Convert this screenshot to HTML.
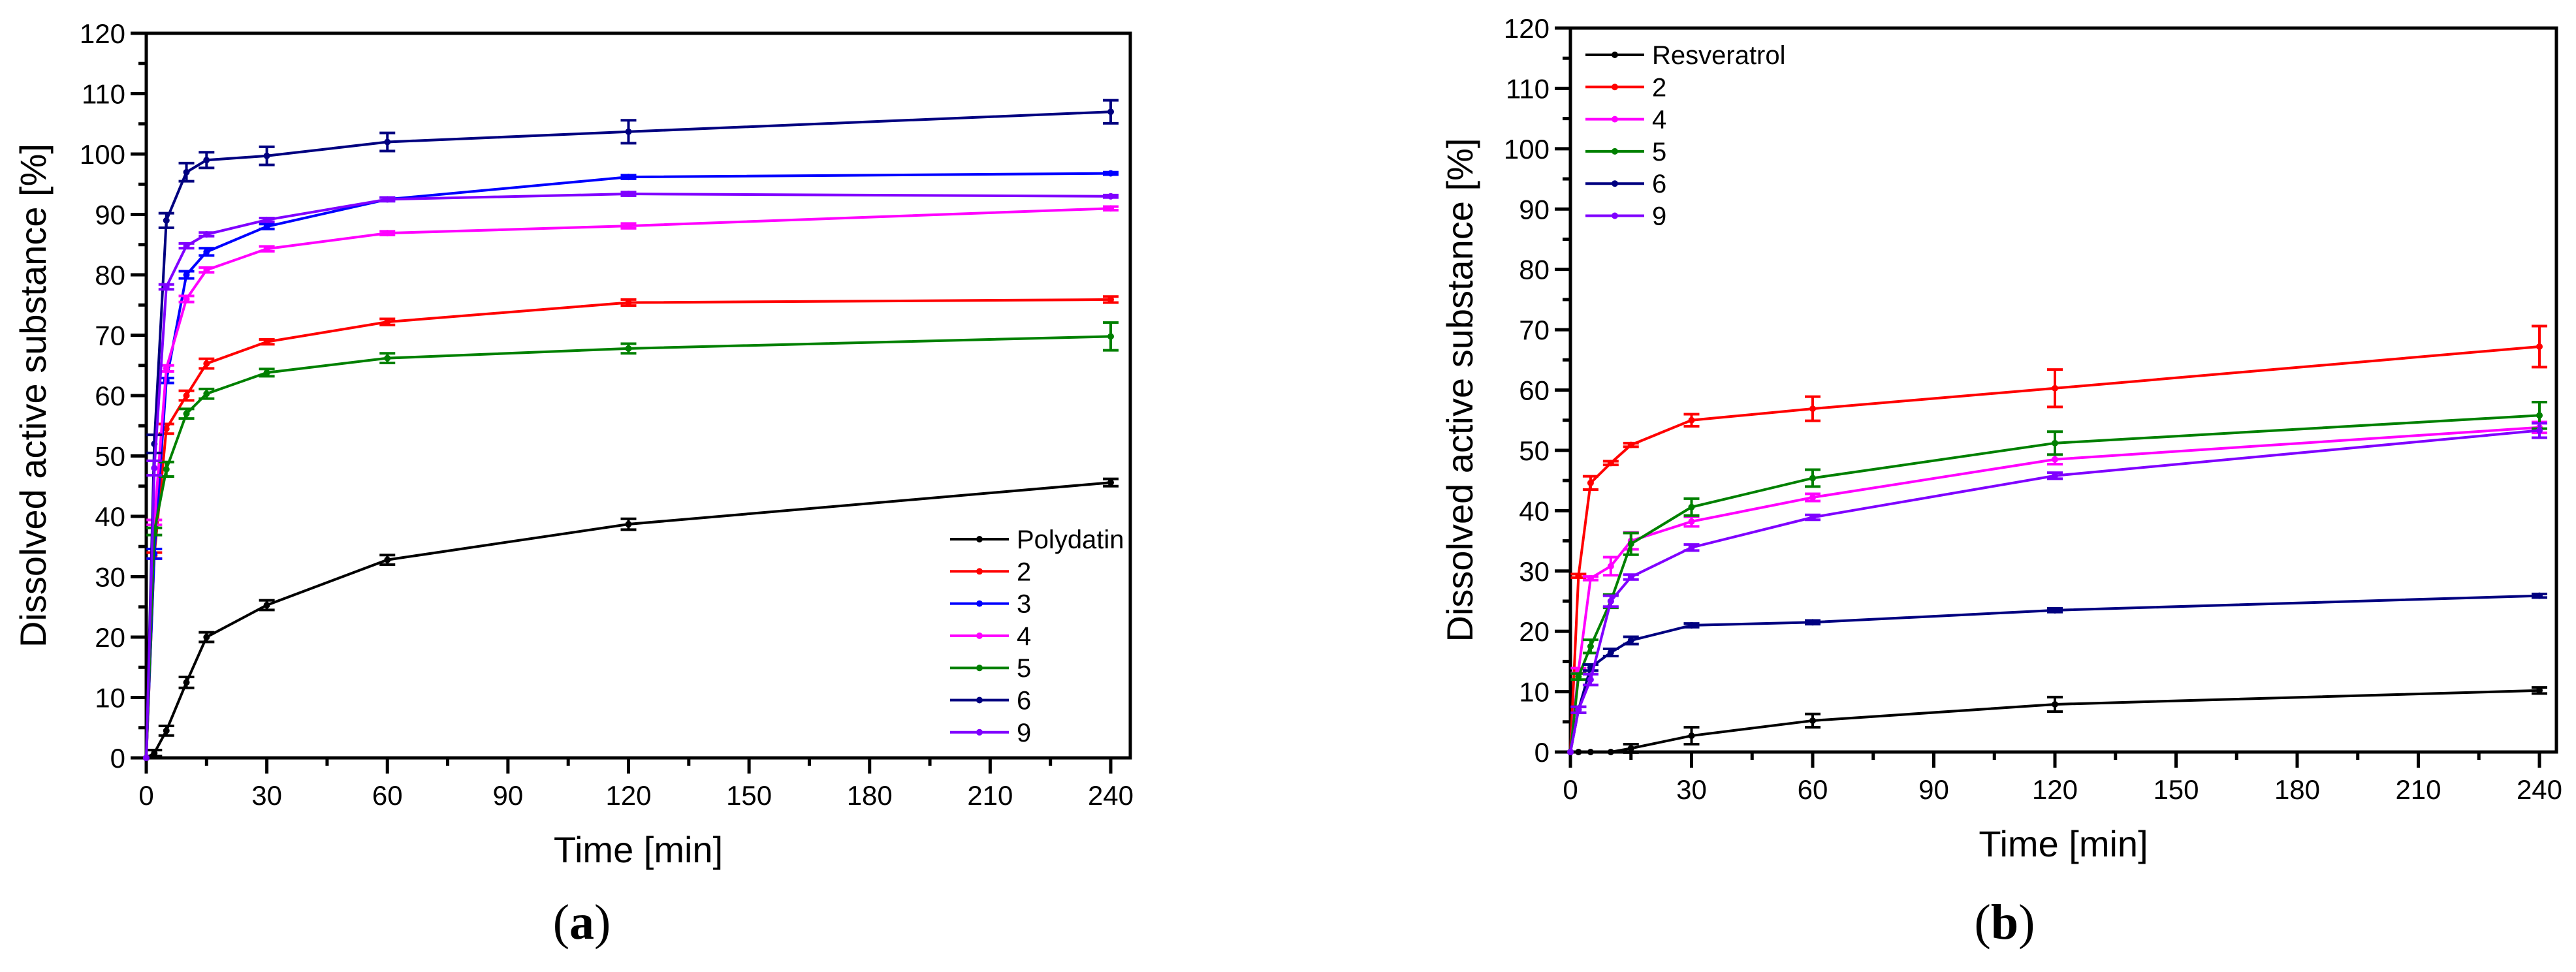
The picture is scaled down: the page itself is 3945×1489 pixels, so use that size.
<!DOCTYPE html>
<html><head><meta charset="utf-8"><style>
html,body{margin:0;padding:0;background:#fff}
svg{display:block}
text{font-family:"Liberation Sans",sans-serif}
</style></head><body>
<svg id="fig" width="3945" height="1489" viewBox="0 0 3945 1489" xmlns="http://www.w3.org/2000/svg"></svg>
<script>
const times = [0, 2, 5, 10, 15, 30, 60, 120, 240];
const xTicks = [0, 30, 60, 90, 120, 150, 180, 210, 240];
const yTicks = [0, 10, 20, 30, 40, 50, 60, 70, 80, 90, 100, 110, 120];
// chart a
const aNames = ["Polydatin", "2", "3", "4", "5", "6", "9"];
const aPoly = [0, 0.8, 4.5, 12.5, 20, 25.3, 32.8, 38.7, 45.6];
const aS2 = [0, 33.5, 54.5, 60, 65.3, 68.9, 72.2, 75.4, 75.9];
const aS3 = [0, 33.8, 62.5, 80, 83.8, 88, 92.5, 96.2, 96.8];
const aS4 = [0, 39, 64.5, 76, 80.8, 84.3, 86.9, 88.1, 91];
const aS5 = [0, 37.5, 47.8, 57, 60.3, 63.8, 66.2, 67.8, 69.8];
const aS6 = [0, 52, 89, 97, 99, 99.7, 102, 103.7, 107];
const aS9 = [0, 48, 78, 84.8, 86.7, 89.1, 92.5, 93.4, 93];
const aErrPoly = [0, 0.5, 0.8, 0.9, 0.8, 0.8, 0.8, 0.9, 0.6];
const aErr2 = [0, 0.5, 0.8, 0.8, 0.8, 0.4, 0.5, 0.5, 0.5];
const aErr3 = [0, 0.8, 0.4, 0.6, 0.6, 0.4, 0.3, 0.3, 0.2];
const aErr4 = [0, 0.4, 0.5, 0.5, 0.4, 0.4, 0.3, 0.4, 0.3];
const aErr5 = [0, 0.6, 1.2, 0.8, 0.8, 0.6, 0.8, 0.8, 2.3];
const aErr6 = [0, 1.5, 1.2, 1.5, 1.3, 1.5, 1.5, 1.9, 1.9];
const aErr9 = [0, 1.2, 0.4, 0.4, 0.3, 0.3, 0.3, 0.3, 0.2];
// chart b
const bNames = ["Resveratrol", "2", "4", "5", "6", "9"];
const bRes = [0, 0, 0, 0, 0.6, 2.7, 5.2, 7.9, 10.2];
const bS2 = [0, 29.2, 44.6, 47.9, 50.9, 55, 56.9, 60.3, 67.2];
const bS4 = [0, 13.5, 28.8, 30.8, 35, 38.2, 42.2, 48.5, 53.8];
const bS5 = [0, 12.5, 17.5, 25, 34.5, 40.6, 45.4, 51.2, 55.8];
const bS6 = [0, 7, 14, 16.5, 18.5, 21, 21.5, 23.5, 25.9];
const bS9 = [0, 7, 12, 25, 29, 33.9, 38.9, 45.8, 53.3];
const bErrRes = [0, 0, 0, 0, 0.7, 1.4, 1.1, 1.2, 0.5];
const bErr2 = [0, 0.3, 1.1, 0.3, 0.3, 1, 2, 3.1, 3.4];
const bErr4 = [0, 0.4, 0.3, 1.5, 1.4, 0.8, 0.6, 0.8, 0.9];
const bErr5 = [0, 0.5, 1.1, 1.1, 1.8, 1.4, 1.4, 1.9, 2.2];
const bErr6 = [0, 0.5, 0.5, 0.6, 0.6, 0.3, 0.3, 0.3, 0.3];
const bErr9 = [0, 0.5, 0.9, 0.9, 0.4, 0.5, 0.4, 0.5, 1.2];

const NS = "http://www.w3.org/2000/svg";
const svg = document.getElementById("fig");
function mk(tag, attrs, parent) {
  const e = document.createElementNS(NS, tag);
  for (const k in attrs) e.setAttribute(k, attrs[k]);
  (parent || svg).appendChild(e);
  return e;
}

function drawChart(cfg) {
  const g = mk("g", {});
  
  
  const X = t => cfg.x0 + (t / 240) * (cfg.x240 - cfg.x0);
  const Y = v => cfg.y0 - (v / 120) * (cfg.y0 - cfg.y120);
  const frame = mk("rect", {x: cfg.x0, y: cfg.y120, width: cfg.right - cfg.x0, height: cfg.y0 - cfg.y120, fill: "none", stroke: "#000", "stroke-width": 5}, g);
  
  
  for (let v = 0; v <= 120; v += 5) {
    const major = v % 10 === 0;
    const t = mk("line", {x1: cfg.x0 - (major ? 24 : 12), x2: cfg.x0, y1: Y(v), y2: Y(v), stroke: "#000", "stroke-width": 5}, g);
    
    
  }
  yTicks.forEach(v => {
    const l = mk("text", {x: cfg.x0 - 32, y: Y(v) + 15, "text-anchor": "end", "font-size": 42}, g);
    l.textContent = v;
    
    
  });
  for (let t = 0; t <= 240; t += 15) {
    const major = t % 30 === 0;
    const tk = mk("line", {x1: X(t), x2: X(t), y1: cfg.y0, y2: cfg.y0 + (major ? 24 : 12), stroke: "#000", "stroke-width": 5}, g);
    
    
  }
  xTicks.forEach(t => {
    const l = mk("text", {x: X(t), y: cfg.y0 + 72, "text-anchor": "middle", "font-size": 42}, g);
    l.textContent = t;
    
    
  });
  const xt = mk("text", {x: (cfg.x0 + cfg.right) / 2, y: cfg.y0 + 160, "text-anchor": "middle", "font-size": 56}, g);
  xt.textContent = "Time [min]";
  
  
  const yc = (cfg.y0 + cfg.y120) / 2;
  const yt = mk("text", {x: cfg.ytx, y: yc, "text-anchor": "middle", "font-size": 56, transform: `rotate(-90 ${cfg.ytx} ${yc})`}, g);
  yt.textContent = "Dissolved active substance [%]";
  
  
  const cap = mk("text", {x: cfg.capx, y: 1438, "text-anchor": "middle", "font-size": 76, style: "font-family:'Liberation Serif',serif"}, g);
  cap.innerHTML = '(<tspan font-weight="bold">' + cfg.cap + '</tspan>)';
  
  
  cfg.series.forEach((s, i) => {
    const sg = mk("g", {}, g);
    
    
    const pts = times.map((t, j) => X(t) + "," + Y(s.vals[j])).join(" ");
    const pl = mk("polyline", {points: pts, fill: "none", stroke: s.color, "stroke-width": 4}, sg);
    
    
    times.forEach((t, j) => {
      const e = s.err[j];
      if (e > 0) {
        const p = mk("path", {d: `M${X(t)},${Y(s.vals[j] + e)}V${Y(s.vals[j] - e)}M${X(t) - 12},${Y(s.vals[j] + e)}h24M${X(t) - 12},${Y(s.vals[j] - e)}h24`, stroke: s.color, "stroke-width": 4, fill: "none"}, sg);
        
        
      }
      const m = mk("circle", {cx: X(t), cy: Y(s.vals[j]), r: 5, fill: s.color}, sg);
      
      
    });
    const ly = cfg.legY + i * cfg.legDy;
    const lg = mk("g", {}, g);
    
    
    mk("line", {x1: cfg.legX, x2: cfg.legX + 90, y1: ly, y2: ly, stroke: s.color, "stroke-width": 4}, lg);
    mk("circle", {cx: cfg.legX + 45, cy: ly, r: 5, fill: s.color}, lg);
    const lt = mk("text", {x: cfg.legX + 102, y: ly + 14, "font-size": 40}, lg);
    lt.textContent = s.label;
  });
}

const colors = {k: "#000000", r: "#ff0000", b: "#0000ff", m: "#ff00ff", g: "#008000", n: "#000080", p: "#8000ff"};
drawChart({
  name: "chart-a", x0: 224, x240: 1701, right: 1731, y0: 1161, y120: 51, ytx: 70, capx: 891, cap: "a",
  legX: 1455, legY: 826, legDy: 49.3,
  series: [
    {label: aNames[0], vals: aPoly, err: aErrPoly, color: colors.k},
    {label: aNames[1], vals: aS2, err: aErr2, color: colors.r},
    {label: aNames[2], vals: aS3, err: aErr3, color: colors.b},
    {label: aNames[3], vals: aS4, err: aErr4, color: colors.m},
    {label: aNames[4], vals: aS5, err: aErr5, color: colors.g},
    {label: aNames[5], vals: aS6, err: aErr6, color: colors.n},
    {label: aNames[6], vals: aS9, err: aErr9, color: colors.p}
  ]
});
drawChart({
  name: "chart-b", x0: 2405, x240: 3889, right: 3915, y0: 1152, y120: 43, ytx: 2255, capx: 3070, cap: "b",
  legX: 2428, legY: 84, legDy: 49.3,
  series: [
    {label: bNames[0], vals: bRes, err: bErrRes, color: colors.k},
    {label: bNames[1], vals: bS2, err: bErr2, color: colors.r},
    {label: bNames[2], vals: bS4, err: bErr4, color: colors.m},
    {label: bNames[3], vals: bS5, err: bErr5, color: colors.g},
    {label: bNames[4], vals: bS6, err: bErr6, color: colors.n},
    {label: bNames[5], vals: bS9, err: bErr9, color: colors.p}
  ]
});
</script>
</body></html>
